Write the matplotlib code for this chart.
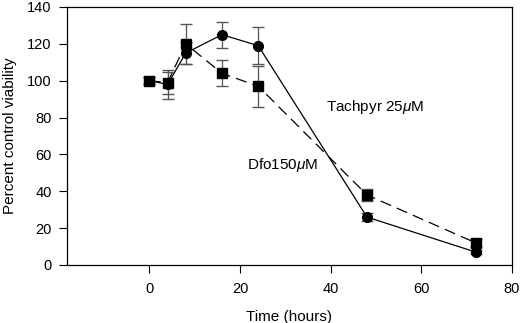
import matplotlib.pyplot as plt

plt.rcParams['font.family'] = ['Liberation Sans', 'DejaVu Sans']
plt.rcParams['mathtext.fontset'] = 'custom'
plt.rcParams['mathtext.it'] = 'Liberation Sans:italic'
plt.rcParams['mathtext.rm'] = 'Liberation Sans'

tiempo = [0, 4, 8, 16, 24, 48, 72]
tachpyr = [100, 98, 115, 125, 119, 26, 7]
tachpyr_err = [2, 8, 6, 7, 10, 2, 1]
dfo = [100, 99, 120, 104, 97, 38, 12]
dfo_err = [2, 6, 11, 7, 11, 3, 2]

fig = plt.figure(figsize=(5.2, 3.23), dpi=100)
ax = fig.add_axes([67/520, 58/323, 445/520, 258/323])

ax.errorbar(tiempo, dfo, yerr=dfo_err, color='black', ls=(0, (9, 5)), lw=0.9,
            marker='s', ms=6.5, ecolor='#555555', elinewidth=0.9, capsize=4)
ax.errorbar(tiempo, tachpyr, yerr=tachpyr_err, color='black', ls='-', lw=0.9,
            marker='o', ms=7, ecolor='#555555', elinewidth=0.9, capsize=4)

ax.text(39, 86, r'Tachpyr 25$\mathit{\mu}$M', fontsize=11, va='center')
ax.text(21.5, 54, r'Dfo150$\mathit{\mu}$M', fontsize=11, va='center')

ax.set_xlim(-18.2, 80)
ax.set_ylim(0, 140)
ax.set_xticks([0, 20, 40, 60, 80])
ax.set_yticks(range(0, 141, 20))
ax.tick_params(labelsize=10.5, length=6, width=0.8)
ax.tick_params(axis='x', pad=6)
ax.tick_params(axis='y', pad=5)
for s in ax.spines.values():
    s.set_linewidth(0.9)
ax.set_xlabel('Time (hours)', fontsize=11, labelpad=10)
ax.set_ylabel('Percent control viability', fontsize=11, labelpad=7)

fig.savefig('out.png', dpi=100)
